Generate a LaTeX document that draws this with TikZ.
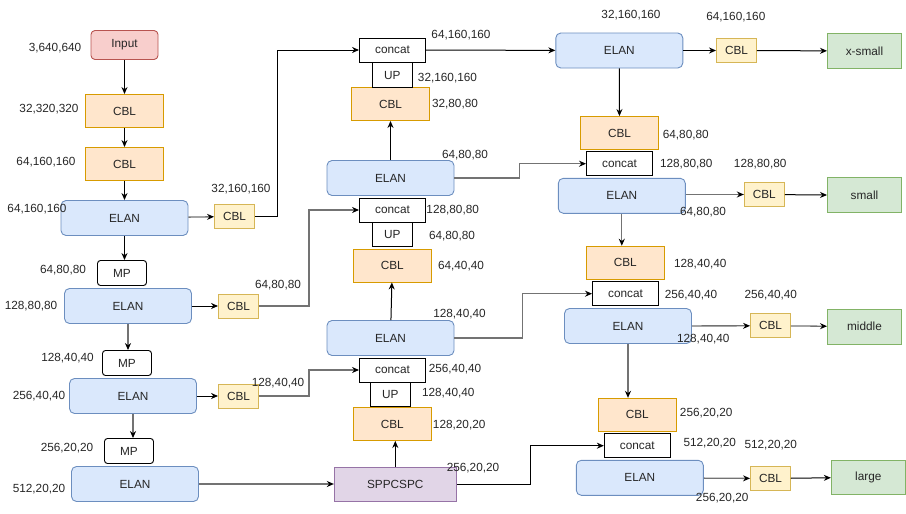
\documentclass[tikz,border=0pt]{standalone}
\usepackage{fontspec}
\setmainfont{Liberation Sans}
\usetikzlibrary{arrows.meta}
\definecolor{elanfill}{HTML}{DAE8FC}
\definecolor{elanline}{HTML}{6C8EBF}
\definecolor{cblfill}{HTML}{FFE6CC}
\definecolor{cblline}{HTML}{D79B00}
\definecolor{cbyfill}{HTML}{FFF2CC}
\definecolor{cbyline}{HTML}{D6B656}
\definecolor{outfill}{HTML}{D5E8D4}
\definecolor{outline}{HTML}{82B366}
\definecolor{infill}{HTML}{F8CECC}
\definecolor{inline}{HTML}{B85450}
\definecolor{sppfill}{HTML}{E1D5E7}
\definecolor{sppline}{HTML}{9673A6}
\begin{document}
\begin{tikzpicture}[x=1pt,y=-1pt,
    font=\fontsize{11.8}{14}\selectfont,
    box/.style={draw, inner sep=0pt, text=black!85, line width=0.9pt},
    elan/.style={box, fill=elanfill, draw=elanline, rounded corners=5pt, minimum width=127pt, minimum height=35pt},
    cblbig/.style={box, fill=cblfill, draw=cblline, minimum width=78pt, minimum height=33pt},
    cblsmall/.style={box, fill=cbyfill, draw=cbyline, minimum width=40pt, minimum height=24pt},
    mpbox/.style={box, fill=white, rounded corners=3pt, minimum width=49pt, minimum height=25pt},
    catbox/.style={box, fill=white, minimum width=66pt, minimum height=24pt},
    upbox/.style={box, fill=white, minimum width=40pt, minimum height=25pt},
    outbox/.style={box, fill=outfill, draw=outline, minimum width=74pt, minimum height=35pt},
    lab/.style={inner sep=0pt, text=black!85},
    conn/.style={line width=1pt, -{Stealth[length=7pt,width=6pt]}},
    conng/.style={line width=1.3pt, draw=black!55, -{Stealth[length=7pt,width=6pt,black]}}]
  \useasboundingbox (0,0) rectangle (906,514);

  % Backbone
  \node[box, fill=infill, draw=inline, rounded corners=4pt, minimum width=67pt, minimum height=29pt] (in) at (124.5,45) {Input};
  \node[cblbig] (c1) at (124.5,111) {CBL};
  \node[cblbig] (c2) at (124.5,164) {CBL};
  \node[elan] (e1) at (124.5,218) {ELAN};
  \node[cblsmall] (cb1) at (234.5,216.5) {CBL};
  \node[mpbox] (mp1) at (122,273) {MP};
  \node[elan] (e2) at (128,306) {ELAN};
  \node[cblsmall] (cb2) at (238.5,306) {CBL};
  \node[mpbox] (mp2) at (127,363) {MP};
  \node[elan] (e3) at (133,396) {ELAN};
  \node[cblsmall] (cb3) at (238.5,396) {CBL};
  \node[mpbox] (mp3) at (129,451) {MP};
  \node[elan] (e4) at (135,484) {ELAN};

  % Middle column
  \node[box, fill=sppfill, draw=sppline, minimum width=122pt, minimum height=34pt] (spp) at (395.3,484) {SPPCSPC};
  \node[cblbig] (cm3) at (392.3,424) {CBL};
  \node[upbox] (up3) at (390.3,394) {UP};
  \node[catbox] (cat3) at (392.5,370) {concat};
  \node[elan] (em2) at (390.5,338) {ELAN};
  \node[cblbig] (cm2) at (392.3,265.5) {CBL};
  \node[upbox] (up2) at (392.3,234) {UP};
  \node[catbox] (cat2) at (392.5,210) {concat};
  \node[elan] (em1) at (390.5,178) {ELAN};
  \node[cblbig] (cm1) at (390.5,104) {CBL};
  \node[upbox] (up1) at (392.3,75) {UP};
  \node[catbox] (cat1) at (392.5,50) {concat};

  % Right column
  \node[elan] (er1) at (619.3,50.5) {ELAN};
  \node[cblsmall] (cy1) at (736.5,50.5) {CBL};
  \node[outbox] (xs) at (864.5,51) {x-small};
  \node[cblbig] (co2) at (619.5,133) {CBL};
  \node[catbox] (catr2) at (619.5,163.7) {concat};
  \node[elan] (er2) at (621.8,195.8) {ELAN};
  \node[cblsmall] (cy2) at (764.3,194.5) {CBL};
  \node[outbox] (sm) at (864.5,195.3) {small};
  \node[cblbig] (co3) at (625.3,262.7) {CBL};
  \node[catbox] (catr3) at (625.5,293.7) {concat};
  \node[elan] (er3) at (628,326) {ELAN};
  \node[cblsmall] (cy3) at (770.5,325.8) {CBL};
  \node[outbox] (mid) at (864.5,326.5) {middle};
  \node[cblbig] (co4) at (637.3,414.8) {CBL};
  \node[catbox] (catr4) at (637.3,445.7) {concat};
  \node[elan] (er4) at (639.8,477.8) {ELAN};
  \node[cblsmall] (cy4) at (770.5,478.5) {CBL};
  \node[outbox, minimum height=34pt] (lg) at (868.3,477.3) {large};

  % Arrows
  \draw[conn] (in) -- (c1);
  \draw[conn] (c1) -- (c2);
  \draw[conn] (c2) -- (e1);
  \draw[conn] (e1.south) -- (e1.south |- mp1.north);
  \draw[conng] (e1) -- (cb1);
  \draw[conn] (cb1.east) -- ++(23,0) |- (cat1.west);
  \draw[conn] (e2) -- (cb2);
  \draw[conng] (cb2.east) -- ++(50,0) |- (cat2.west);
  \draw[conng] (e2.south) -- (e2.south |- mp2.north);
  \draw[conn] (e3) -- (cb3);
  \draw[conng] (cb3.east) -- ++(50,0) |- (cat3.west);
  \draw[conng] (e3.south) -- (e3.south |- mp3.north);
  \draw[conng] (e4) -- (spp);

  \draw[conn] (spp.north) -- (spp.north |- cm3.south);
  \draw[conn] (em2) -- (cm2);
  \draw[conn] (em1) -- (cm1);

  \draw[conn] (cat1) -- (er1);
  \draw[conn] (er1) -- (cy1);
  \draw[conn] (cy1) -- (xs);
  \draw[conn] (er1) -- (co2);
  \draw[conng] (em1.east) -- ++(65,0) |- (catr2.west);
  \draw[conng] (er2.east |- cy2) -- (cy2.west);
  \draw[conn] (cy2) -- (sm);
  \draw[conng] (er2.south) -- (er2.south |- co3.north);
  \draw[conng] (em2.east) -- ++(68,0) |- (catr3.west);
  \draw[conng] (er3) -- (cy3);
  \draw[conng] (cy3) -- (mid);
  \draw[conng] (er3.south) -- (er3.south |- co4.north);
  \draw[conn] (spp.east) -- ++(74,0) |- (catr4.west);
  \draw[conng] (er4) -- (cy4);
  \draw[conn] (cy4) -- (lg);

  % Shape labels
  \node[lab] (t1) at (55,48) {3,640,640};
  \node[lab] (t2) at (49,109) {32,320,320};
  \node[lab] (t3) at (46,162) {64,160,160};
  \node[lab] (t4) at (37,209) {64,160,160};
  \node[lab] (t5) at (241,189) {32,160,160};
  \node[lab] (t6) at (63,270) {64,80,80};
  \node[lab] (t7) at (31,305.7) {128,80,80};
  \node[lab] (t8) at (278,284.7) {64,80,80};
  \node[lab] (t9) at (67.5,358) {128,40,40};
  \node[lab] (t10) at (39,395.7) {256,40,40};
  \node[lab] (t11) at (278,382.7) {128,40,40};
  \node[lab] (t12) at (67,448) {256,20,20};
  \node[lab] (t13) at (39,489.3) {512,20,20};
  \node[lab] (t14) at (461,34.7) {64,160,160};
  \node[lab] (t15) at (447.5,77.7) {32,160,160};
  \node[lab] (t16) at (455,104.3) {32,80,80};
  \node[lab] (t17) at (465,154.7) {64,80,80};
  \node[lab] (t18) at (452.7,210) {128,80,80};
  \node[lab] (t19) at (452,236) {64,80,80};
  \node[lab] (t20) at (461,265.7) {64,40,40};
  \node[lab] (t21) at (459.5,314.3) {128,40,40};
  \node[lab] (t22) at (455,369) {256,40,40};
  \node[lab] (t23) at (448.3,392.7) {128,40,40};
  \node[lab] (t24) at (459.2,425) {128,20,20};
  \node[lab] (t25) at (473,467.7) {256,20,20};
  \node[lab] (t26) at (631,14.7) {32,160,160};
  \node[lab] (t27) at (735.8,17.3) {64,160,160};
  \node[lab] (t28) at (685.8,135) {64,80,80};
  \node[lab] (t29) at (686.3,163.7) {128,80,80};
  \node[lab] (t30) at (760.2,163.7) {128,80,80};
  \node[lab] (t31) at (703,212.3) {64,80,80};
  \node[lab] (t32) at (700.3,263.7) {128,40,40};
  \node[lab] (t33) at (691,295.3) {256,40,40};
  \node[lab] (t34) at (770.8,295.3) {256,40,40};
  \node[lab] (t35) at (703.3,339.3) {128,40,40};
  \node[lab] (t36) at (706.2,412.7) {256,20,20};
  \node[lab] (t37) at (709.8,442.7) {512,20,20};
  \node[lab] (t38) at (770.8,445.3) {512,20,20};
  \node[lab] (t39) at (722.2,497.7) {256,20,20};
\end{tikzpicture}
\end{document}
